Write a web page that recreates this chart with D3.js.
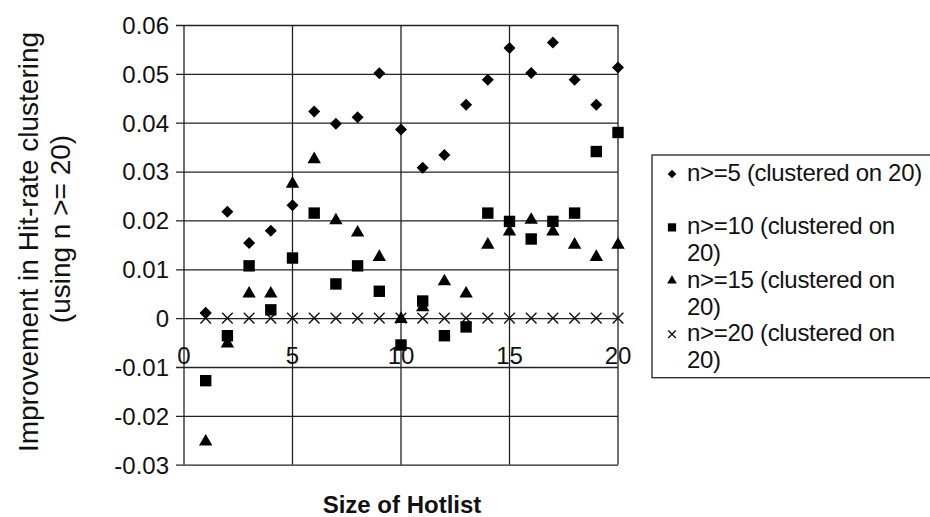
<!DOCTYPE html>
<html>
  <head>
    <meta charset="UTF-8">
    <style>
      html, body { margin: 0; padding: 0; background: #fff; }
      svg { display: block; font-family: "Liberation Sans", Arial, sans-serif; }
    </style>
    <script src="https://d3js.org/d3.v7.min.js"></script>
  </head>
  <body>
    <div id="viz"></div>
    <script>
      // hotlist sizes on the x axis
      const sizes = d3.range(1, 21);

      // improvement per series
      const n5 = [0.0011, 0.0218, 0.0154, 0.0179, 0.0231, 0.0423, 0.0398, 0.0411, 0.0501, 0.0386,
                  0.0308, 0.0334, 0.0437, 0.0488, 0.0553, 0.0502, 0.0564, 0.0488, 0.0437, 0.0513];
      const n10 = [-0.0128, -0.0036, 0.0107, 0.0017, 0.0123, 0.0215, 0.0070, 0.0107, 0.0055, -0.0055,
                   0.0035, -0.0036, -0.0018, 0.0215, 0.0198, 0.0162, 0.0198, 0.0215, 0.0341, 0.0380];
      const n15 = [-0.0253, -0.0052, 0.0050, 0.0050, 0.0275, 0.0325, 0.0200, 0.0175, 0.0125, -0.0002,
                   0.0022, 0.0075, 0.0050, 0.0150, 0.0177, 0.0201, 0.0177, 0.0150, 0.0125, 0.0150];
      const n20 = [0, 0, 0, 0, 0, 0, 0, 0, 0, 0, 0, 0, 0, 0, 0, 0, 0, 0, 0, 0];

      const seriesNames = ["n>=5 (clustered on 20)", "n>=10 (clustered on 20)",
                           "n>=15 (clustered on 20)", "n>=20 (clustered on 20)"];
      const yTicks = [-0.03, -0.02, -0.01, 0, 0.01, 0.02, 0.03, 0.04, 0.05, 0.06];
      const xTicks = [0, 5, 10, 15, 20];

      const width = 930, height = 517;
      const plot = {left: 184, right: 618, top: 25, bottom: 464.7};
      const ink = "#222";

      const x = d3.scaleLinear().domain([0, 20]).range([plot.left, plot.right]);
      const y = d3.scaleLinear().domain([-0.03, 0.06]).range([plot.bottom, plot.top]);

      const svg = d3.select("#viz").append("svg")
          .attr("width", width)
          .attr("height", height);

      // horizontal gridlines + left ticks via the axis
      const yAxis = svg.append("g")
          .attr("transform", `translate(${plot.left},0)`)
          .call(d3.axisLeft(y)
            .tickValues(yTicks)
            .tickSizeInner(-(plot.right - plot.left))
            .tickSizeOuter(0)
            .tickPadding(15)
            .tickFormat(d => d === 0 ? "0" : d.toFixed(2)));
      yAxis.select(".domain").remove();
      yAxis.selectAll(".tick line")
          .attr("x1", -8)
          .attr("stroke", ink)
          .attr("stroke-width", 1.3);
      yAxis.selectAll(".tick text")
          .attr("font-size", 24)
          .attr("fill", "#111")
          .attr("dy", "0.35em");

      // vertical gridlines
      svg.append("g")
        .selectAll("line")
        .data(xTicks)
        .join("line")
          .attr("x1", d => x(d)).attr("x2", d => x(d))
          .attr("y1", plot.top).attr("y2", plot.bottom)
          .attr("stroke", ink)
          .attr("stroke-width", 1.3);

      // x tick labels sit under the zero line
      svg.append("g")
        .selectAll("text")
        .data(xTicks)
        .join("text")
          .attr("x", d => x(d))
          .attr("y", y(0) + 46)
          .attr("text-anchor", "middle")
          .attr("font-size", 24)
          .attr("fill", "#111")
          .text(d => d);

      const series = [
        {name: seriesNames[0], values: n5, type: "diamond"},
        {name: seriesNames[1], values: n10, type: "square"},
        {name: seriesNames[2], values: n15, type: "triangle"},
        {name: seriesNames[3], values: n20, type: "times"}
      ];

      function marker(sel, type, k) {
        if (type === "diamond") {
          sel.attr("d", d3.symbol(d3.symbolSquare, 72 * k * k)())
             .attr("fill", "#000");
          sel.attr("transform", function() { return d3.select(this).attr("transform") + " rotate(45)"; });
        } else if (type === "square") {
          sel.attr("d", d3.symbol(d3.symbolSquare, 130 * k * k)()).attr("fill", "#000");
        } else if (type === "triangle") {
          sel.attr("d", d3.symbol(d3.symbolTriangle, 78 * k * k)()).attr("fill", "#000");
        } else {
          sel.attr("d", d3.symbol(d3.symbolTimes, 75 * k * k)())
             .attr("fill", "none")
             .attr("stroke", "#111")
             .attr("stroke-width", 1.4);
        }
      }

      // draw the x series first so filled markers sit on top
      series.slice().reverse().forEach(s => {
        svg.append("g")
          .selectAll("path")
          .data(s.values)
          .join("path")
            .attr("transform", (d, i) => `translate(${x(sizes[i])},${y(d)})`)
            .call(marker, s.type, 1);
      });

      // legend
      const legend = svg.append("g");
      legend.append("rect")
          .attr("x", 652).attr("y", 155)
          .attr("width", 300).attr("height", 222.7)
          .attr("fill", "#fff")
          .attr("stroke", ink)
          .attr("stroke-width", 1.3);

      const lineStep = 26.7;
      series.forEach((s, i) => {
        const base = 181 + lineStep * (2 * i);
        const g = legend.append("g");
        g.append("path")
          .attr("transform", `translate(672,${base - 7})`)
          .call(marker, s.type, 0.72);
        // split like the original: first entry fits on one line
        const lines = i === 0 ? [s.name] : [s.name.replace(/ 20\)$/, ""), "20)"];
        g.selectAll("text")
          .data(lines)
          .join("text")
            .attr("x", 687)
            .attr("y", (d, j) => base + j * lineStep)
            .attr("font-size", 24)
            .attr("letter-spacing", -0.3)
            .attr("fill", "#111")
            .text(d => d);
      });

      // axis titles
      const yTitle = ["Improvement in Hit-rate clustering", "(using n >= 20)"];
      svg.append("g")
        .selectAll("text")
        .data(yTitle)
        .join("text")
          .attr("transform", (d, i) => `translate(${i === 0 ? 37.7 : 70},${i === 0 ? 242 : 229}) rotate(-90)`)
          .attr("text-anchor", "middle")
          .attr("font-size", 28)
          .attr("fill", "#111")
          .text(d => d);

      svg.append("text")
          .attr("x", 402)
          .attr("y", 513)
          .attr("text-anchor", "middle")
          .attr("font-size", 24)
          .attr("font-weight", "bold")
          .attr("fill", "#111")
          .text("Size of Hotlist");
    </script>
  </body>
</html>
